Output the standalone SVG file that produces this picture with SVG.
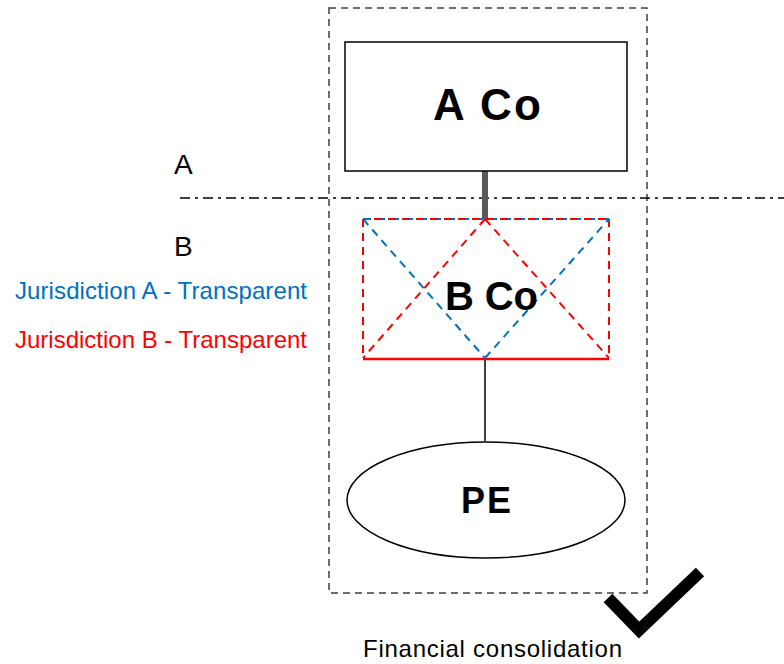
<svg xmlns="http://www.w3.org/2000/svg" width="784" height="664" viewBox="0 0 784 664">
<style>
text{font-family:"Liberation Sans",Arial,sans-serif}
.b{font-weight:bold;fill:#000}
.red{stroke:#FF0000;stroke-width:2;fill:none;stroke-dasharray:8,6}
.blue{stroke:#0070C0;stroke-width:2;fill:none;stroke-dasharray:8,6}
</style>
<rect width="784" height="664" fill="#fff"/>
<g id="consolidation-boundary">
<rect x="329" y="8" width="318" height="585" fill="none" stroke="#404040" stroke-width="1.5" stroke-dasharray="7,5"/>
</g>
<g id="jurisdiction-line">
<line x1="180" y1="198" x2="784" y2="198" stroke="#000" stroke-width="1.5" stroke-dasharray="10,5,3,5"/>
<text x="174" y="174" font-size="28">A</text>
<text x="174" y="256" font-size="28">B</text>
</g>
<g id="legend">
<text x="15" y="299" font-size="24" fill="#0070C0" textLength="292" lengthAdjust="spacing">Jurisdiction A - Transparent</text>
<text x="15" y="348" font-size="24" fill="#FF0000" textLength="292" lengthAdjust="spacing">Jurisdiction B - Transparent</text>
</g>
<g id="connectors">
<line x1="485" y1="171" x2="485" y2="219" stroke="#595959" stroke-width="6"/>
<line x1="485" y1="359" x2="485" y2="441" stroke="#000" stroke-width="1.5"/>
</g>
<g id="aco">
<rect x="345" y="42" width="282" height="129" fill="#fff" stroke="#000" stroke-width="1.5"/>
<text x="433" y="120" font-size="44" class="b" textLength="108" lengthAdjust="spacing">A Co</text>
</g>
<g id="bco">
<line x1="363" y1="219" x2="609" y2="219" class="blue"/>
<line x1="367" y1="219" x2="609" y2="219" class="red" stroke-dashoffset="7"/>
<line x1="363" y1="219" x2="363" y2="359" class="red"/>
<line x1="609" y1="219" x2="609" y2="359" class="red"/>
<line x1="363" y1="359" x2="609" y2="359" stroke="#FF0000" stroke-width="2.5"/>
<line x1="363" y1="219" x2="485" y2="358" class="blue"/>
<line x1="485" y1="358" x2="609" y2="219" class="blue"/>
<line x1="485" y1="219" x2="363" y2="358" class="red"/>
<line x1="485" y1="219" x2="609" y2="358" class="red"/>
<text x="445" y="310" font-size="40" class="b" textLength="93" lengthAdjust="spacing">B Co</text>
</g>
<g id="pe">
<ellipse cx="486" cy="500" rx="139" ry="58" fill="#fff" stroke="#000" stroke-width="1.5"/>
<text x="461" y="513" font-size="36" class="b" textLength="50" lengthAdjust="spacing">PE</text>
</g>
<g id="check">
<polyline points="608,598 639,630 700,572" fill="none" stroke="#000" stroke-width="12"/>
<text x="363" y="657" font-size="24" textLength="259" lengthAdjust="spacing">Financial consolidation</text>
</g>
</svg>
